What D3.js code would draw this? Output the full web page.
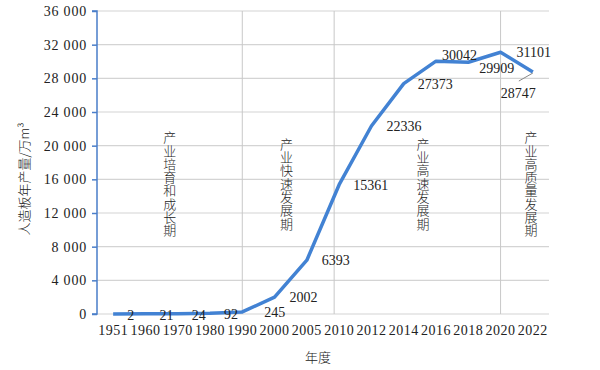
<!DOCTYPE html>
<html>
<head>
<meta charset="utf-8">
<script src="https://cdn.jsdelivr.net/npm/d3@7"></script>
<style>
  body { margin: 0; background: #fff; }
  svg text { fill: #222; }
  .num { font-family: "Liberation Serif", "DejaVu Serif", serif; font-size: 14px; }
  .cjk { font-family: "Noto Sans CJK SC", sans-serif; font-weight: 300; font-size: 13px; }
</style>
</head>
<body>
<div id="chart"></div>
<script>
/* DATA */
const years = ["1951", "1960", "1970", "1980", "1990", "2000", "2005", "2010", "2012", "2014", "2016", "2018", "2020", "2022"];
const output = [2, 21, 24, 92, 245, 2002, 6393, 15361, 22336, 27373, 30042, 29909, 31101, 28747];
const yTicks = [0, 4000, 8000, 12000, 16000, 20000, 24000, 28000, 32000, 36000];
const phaseYears = ["1990", "2010", "2020"]; // vertical separators
const phaseNames = ["产业培育和成长期", "产业快速发展期", "产业高速发展期", "产业高质量发展期"];
const phaseAt = ["1970", "2000", "2014", "2022"];
const phaseShift = [-0.25, 0.37, 0.6, -0.06]; // in band widths
// label nudges [dx, dy] relative to the point
const labelNudge = [[14, 1], [14, 1], [14, 1], [14, 1], [22, 0], [15, 0], [15, 0], [14, 0], [15, 0], [14, 0], [6, -6], [11, 6], [16, 0], [-32, 21]];

/* CONSTANTS */
const width = 600,
  height = 370,
  margin = { top: 11, bottom: 56, left: 97, right: 51 };

const svg = d3.select("#chart")
  .append("svg")
  .attr("width", width)
  .attr("height", height);

const xScale = d3.scaleBand()
  .domain(years)
  .range([margin.left, width - margin.right]);

const yScale = d3.scaleLinear()
  .domain([0, 36000])
  .range([height - margin.bottom, margin.top]);

const xc = d => xScale(d) + xScale.bandwidth() / 2;
const fmt = d => d3.format(",")(d).replace(/,/g, " ");

// horizontal grid
svg.append("g")
  .selectAll("line")
  .data(yTicks)
  .join("line")
  .attr("x1", margin.left)
  .attr("x2", width - margin.right)
  .attr("y1", d => yScale(d))
  .attr("y2", d => yScale(d))
  .attr("stroke", "#d4d4d4")
  .attr("stroke-width", 1.2);

// vertical phase separators
svg.append("g")
  .selectAll("line")
  .data(phaseYears)
  .join("line")
  .attr("x1", d => xc(d) - (d === "2010" ? 5 : 0))
  .attr("x2", d => xc(d) - (d === "2010" ? 5 : 0))
  .attr("y1", margin.top)
  .attr("y2", yScale(0))
  .attr("stroke", "#c8c8c8")
  .attr("stroke-width", 1);

// y axis
const yAxis = d3.axisLeft(yScale)
  .tickValues(yTicks)
  .tickSize(5)
  .tickFormat(fmt);

const yAxisGroup = svg.append("g")
  .attr("transform", `translate(${margin.left},0)`)
  .call(yAxis)
  .attr("font-family", null)
  .attr("font-size", null);
yAxisGroup.select(".domain").attr("stroke", "#4a7ec9").attr("stroke-width", 1.5).attr("d", `M-5,${yScale(36000)}H0V${yScale(0)}H-5`);
yAxisGroup.selectAll(".tick line").attr("stroke", "#4a7ec9").attr("stroke-width", 1.5);
yAxisGroup.selectAll(".tick text")
  .attr("class", "num")
  .attr("x", -10)
  .style("letter-spacing", "0.8px")
  .style("fill", "#222");

// x axis labels
const xAxis = d3.axisBottom(xScale).tickSize(0).tickPadding(11);
const xAxisGroup = svg.append("g")
  .attr("transform", `translate(0,${yScale(0)})`)
  .call(xAxis)
  .attr("font-family", null)
  .attr("font-size", null);
xAxisGroup.select(".domain").remove();
xAxisGroup.selectAll(".tick text")
  .attr("class", "num")
  .style("letter-spacing", "0.5px")
  .style("fill", "#222");

// line
const line = d3.line()
  .x((d, i) => xc(years[i]))
  .y(d => yScale(d));

svg.append("path")
  .datum(output)
  .attr("fill", "none")
  .attr("stroke", "#4282d3")
  .attr("stroke-width", 3.5)
  .attr("stroke-linejoin", "round")
  .attr("d", line);

// leader line for last label
const lastI = output.length - 1;
svg.append("line")
  .attr("x1", xc(years[lastI]))
  .attr("y1", yScale(output[lastI]) + 1)
  .attr("x2", xc(years[lastI]) - 14)
  .attr("y2", yScale(output[lastI]) + 9)
  .attr("stroke", "#888")
  .attr("stroke-width", 1);

// data labels
svg.append("g")
  .selectAll("text")
  .data(output)
  .join("text")
  .attr("class", "num")
  .attr("x", (d, i) => xc(years[i]) + labelNudge[i][0])
  .attr("y", (d, i) => yScale(d) + labelNudge[i][1])
  .attr("dy", "0.35em")
  .text(d => d);

// phase labels (vertical)
svg.append("g")
  .selectAll("text")
  .data(phaseNames)
  .join("text")
  .attr("class", "cjk")
  .attr("x", (d, i) => xc(phaseAt[i]) + phaseShift[i] * xScale.bandwidth())
  .attr("y", 184)
  .attr("text-anchor", "middle")
  .style("writing-mode", "vertical-rl")
  .style("text-orientation", "upright")
  .style("letter-spacing", "0.3px")
  .text(d => d);

// axis titles
svg.append("text")
  .attr("class", "cjk")
  .attr("transform", "translate(29,179) rotate(-90)")
  .attr("text-anchor", "middle")
  .text("人造板年产量/万m³");

svg.append("text")
  .attr("class", "cjk")
  .attr("x", 318)
  .attr("y", 362)
  .attr("text-anchor", "middle")
  .text("年度");
</script>
</body>
</html>
